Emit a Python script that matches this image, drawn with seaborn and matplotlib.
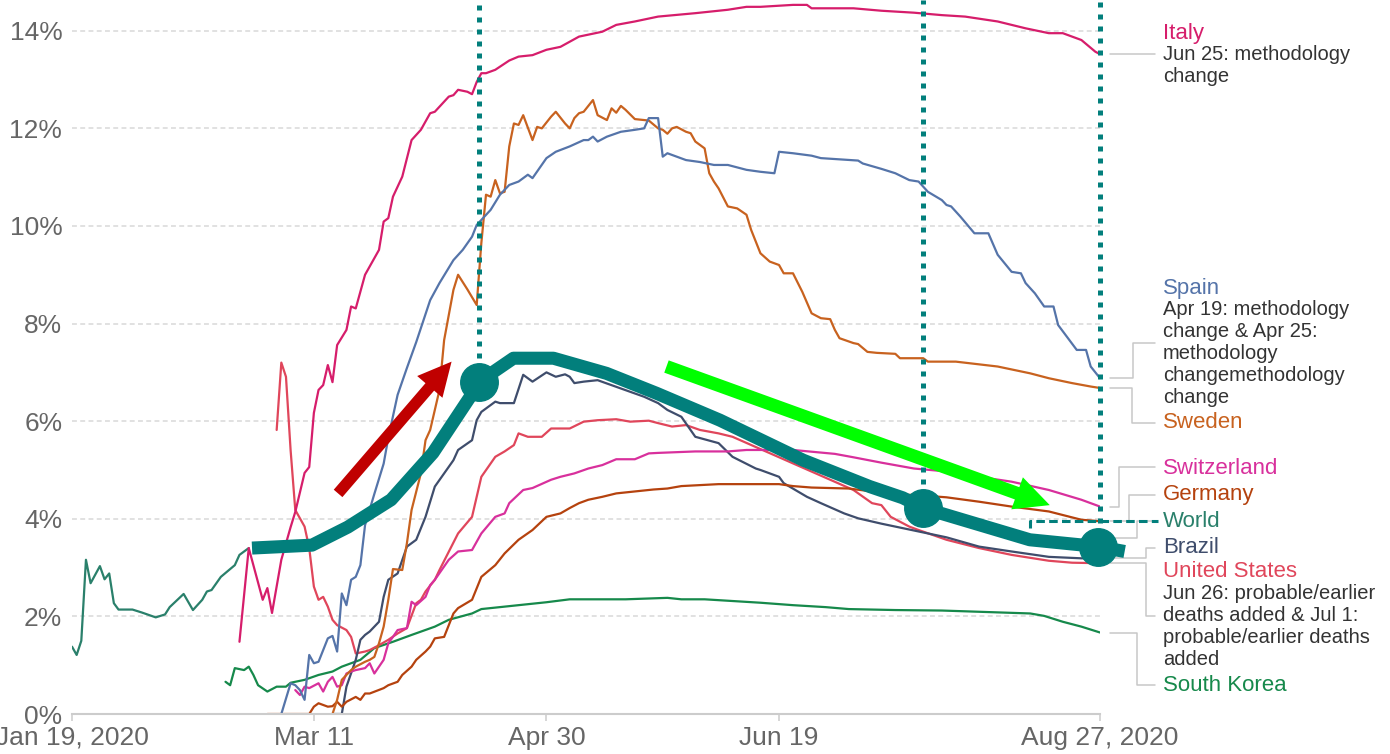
import seaborn as sns
import matplotlib.pyplot as plt
import matplotlib.dates as mdates
from matplotlib.patches import FancyArrowPatch
import pandas as pd

START = pd.Timestamp("2020-01-19")
# x values: days since Jan 19, 2020 / y values: case fatality rate in %

world_day = [0, 1, 2, 3, 4, 6, 7, 8, 9, 10, 13, 15, 18, 20, 21, 24, 26, 28, 29, 30, 32, 35, 36, 38]
world_cfr = [1.38, 1.21, 1.50, 3.16, 2.68, 3.03, 2.76, 2.88, 2.27, 2.14, 2.14, 2.08, 1.98, 2.04, 2.19, 2.46,
             2.13, 2.34, 2.51, 2.54, 2.81, 3.05, 3.26, 3.40]

italy_day = [36, 38, 41, 42, 43, 45, 47, 48, 50, 51, 52, 53, 54, 55, 56, 57, 59, 60, 61, 63, 66, 67, 68, 69, 71,
             73, 75, 77, 78, 81, 82, 83, 85, 86, 87, 88, 89, 91, 94, 96, 99, 102, 105, 109, 114, 117, 121, 126,
             134, 141, 145, 148, 155, 158, 159, 168, 174, 181, 187, 192, 199, 205, 210, 213, 217, 220, 221]
italy_cfr = [1.48, 3.40, 2.34, 2.58, 2.07, 3.16, 3.83, 4.14, 4.94, 5.06, 6.17, 6.64, 6.74, 7.15, 6.80, 7.56, 7.87,
             8.35, 8.31, 9.00, 9.51, 10.09, 10.16, 10.60, 11.01, 11.76, 11.97, 12.31, 12.34, 12.65, 12.68, 12.79,
             12.75, 12.70, 12.95, 13.13, 13.13, 13.20, 13.39, 13.47, 13.50, 13.61, 13.67, 13.88, 13.98, 14.12,
             14.19, 14.29, 14.36, 14.43, 14.49, 14.49, 14.53, 14.53, 14.46, 14.46, 14.41, 14.37, 14.32, 14.29,
             14.19, 14.05, 13.95, 13.95, 13.81, 13.57, 13.52]

spain_day = [45, 47, 48, 49, 50, 51, 52, 53, 55, 56, 57, 58, 59, 60, 61, 62, 63, 65, 67, 68, 70, 72, 74, 77, 79,
             82, 84, 86, 87, 90, 92, 94, 96, 98, 99, 102, 104, 107, 110, 111, 112, 113, 115, 118, 121, 123, 124,
             126, 127, 128, 132, 135, 138, 141, 145, 148, 151, 152, 155, 159, 161, 169, 170, 174, 177, 180, 182,
             184, 187, 188, 189, 191, 194, 197, 199, 202, 204, 205, 207, 209, 211, 212, 216, 218, 219, 221]
spain_cfr = [0.00, 0.63, 0.59, 0.49, 0.29, 1.21, 1.04, 1.07, 1.55, 1.60, 1.28, 2.47, 2.23, 2.75, 2.81, 3.05, 3.87,
             4.51, 5.13, 5.66, 6.54, 7.09, 7.62, 8.48, 8.83, 9.30, 9.51, 9.78, 10.02, 10.33, 10.64, 10.84, 10.91,
             11.05, 10.98, 11.39, 11.52, 11.63, 11.76, 11.76, 11.83, 11.73, 11.83, 11.93, 11.97, 12.00, 12.21,
             12.21, 11.42, 11.49, 11.35, 11.31, 11.25, 11.25, 11.15, 11.11, 11.08, 11.52, 11.49, 11.44, 11.39,
             11.34, 11.28, 11.17, 11.08, 10.94, 10.91, 10.70, 10.53, 10.43, 10.40, 10.19, 9.85, 9.85, 9.41, 9.06,
             9.03, 8.83, 8.62, 8.35, 8.35, 7.97, 7.46, 7.46, 7.12, 6.88]

sweden_day = [56, 57, 58, 60, 61, 63, 64, 65, 66, 67, 68, 69, 71, 72, 73, 75, 76, 77, 79, 80, 82, 83, 85, 87, 88,
              89, 90, 91, 92, 93, 94, 95, 96, 97, 99, 100, 101, 103, 104, 106, 107, 108, 109, 110, 112, 113, 115,
              116, 117, 118, 119, 121, 124, 126, 127, 128, 129, 130, 132, 133, 134, 136, 137, 138, 139, 141, 143,
              145, 146, 148, 150, 152, 153, 155, 157, 159, 161, 163, 164, 165, 168, 169, 171, 173, 177, 178, 183,
              184, 190, 199, 206, 210, 215, 219, 221]
sweden_cfr = [0.00, 0.29, 0.70, 0.90, 0.97, 1.07, 1.11, 1.17, 1.45, 1.79, 2.34, 2.97, 2.95, 3.50, 4.18, 4.93, 5.61,
              5.82, 6.64, 7.66, 8.69, 9.00, 8.70, 8.38, 9.65, 10.64, 10.60, 10.94, 10.67, 10.70, 11.63, 12.10,
              12.07, 12.27, 11.76, 12.03, 12.00, 12.24, 12.34, 12.10, 12.00, 12.21, 12.31, 12.34, 12.58, 12.27,
              12.17, 12.41, 12.32, 12.46, 12.38, 12.19, 12.16, 12.00, 11.97, 11.89, 12.00, 12.03, 11.93, 11.90,
              11.73, 11.59, 11.08, 10.91, 10.77, 10.40, 10.36, 10.23, 9.92, 9.44, 9.27, 9.20, 9.03, 9.03, 8.65,
              8.21, 8.11, 8.09, 7.87, 7.70, 7.60, 7.58, 7.42, 7.40, 7.38, 7.29, 7.29, 7.22, 7.22, 7.12, 6.98,
              6.88, 6.78, 6.71, 6.68]

germany_day = [42, 51, 52, 53, 55, 56, 57, 58, 59, 61, 62, 63, 64, 67, 68, 70, 71, 73, 74, 76, 77, 78, 80, 82, 83,
               86, 88, 91, 93, 96, 99, 102, 105, 107, 109, 111, 114, 117, 121, 125, 128, 131, 139, 152, 155, 159,
               167, 172, 177, 181, 188, 195, 202, 210, 217, 221]
germany_cfr = [0.00, 0.00, 0.15, 0.22, 0.15, 0.16, 0.25, 0.15, 0.25, 0.35, 0.29, 0.42, 0.42, 0.53, 0.59, 0.66, 0.80,
               0.97, 1.11, 1.28, 1.38, 1.55, 1.58, 2.06, 2.17, 2.34, 2.81, 3.05, 3.29, 3.57, 3.77, 4.04, 4.11,
               4.22, 4.32, 4.39, 4.45, 4.52, 4.56, 4.60, 4.62, 4.67, 4.71, 4.71, 4.67, 4.64, 4.62, 4.56, 4.49,
               4.49, 4.44, 4.35, 4.25, 4.15, 3.98, 3.95]

swiss_day = [48, 49, 50, 51, 53, 54, 55, 56, 57, 58, 59, 60, 61, 63, 64, 65, 67, 68, 69, 70, 72, 73, 74, 76, 77,
             78, 81, 83, 86, 88, 91, 93, 94, 97, 99, 103, 105, 108, 111, 114, 117, 121, 124, 126, 134, 141, 145,
             155, 164, 168, 174, 181, 188, 195, 202, 210, 217, 221]
swiss_cfr = [0.49, 0.39, 0.56, 0.53, 0.63, 0.46, 0.66, 0.76, 0.56, 0.59, 0.83, 0.87, 0.90, 0.94, 1.04, 0.83, 1.11,
             1.45, 1.58, 1.72, 1.76, 2.30, 2.23, 2.40, 2.64, 2.75, 3.16, 3.33, 3.36, 3.70, 4.04, 4.11, 4.32, 4.59,
             4.63, 4.80, 4.86, 4.93, 5.03, 5.10, 5.22, 5.22, 5.34, 5.35, 5.38, 5.38, 5.41, 5.41, 5.33, 5.26, 5.15,
             5.03, 4.97, 4.86, 4.76, 4.59, 4.39, 4.25]

brazil_day = [56, 58, 59, 61, 62, 63, 64, 66, 67, 68, 70, 72, 74, 76, 78, 80, 82, 83, 86, 87, 88, 91, 92, 95, 97,
              99, 102, 104, 106, 107, 108, 110, 113, 123, 126, 128, 131, 134, 139, 142, 147, 148, 152, 153, 158,
              161, 166, 169, 174, 179, 188, 195, 202, 210, 217, 221]
brazil_cfr = [0.00, 0.00, 0.56, 1.11, 1.52, 1.62, 1.69, 1.89, 2.40, 2.75, 2.88, 3.43, 3.57, 4.04, 4.66, 4.93, 5.20,
              5.41, 5.61, 6.02, 6.19, 6.40, 6.37, 6.37, 6.95, 6.81, 7.00, 6.91, 6.96, 6.91, 6.78, 6.81, 6.84, 6.50,
              6.37, 6.23, 6.09, 5.68, 5.55, 5.27, 5.03, 5.00, 4.86, 4.73, 4.45, 4.32, 4.11, 4.01, 3.90, 3.80, 3.62,
              3.43, 3.33, 3.22, 3.19, 3.19]

us_day = [44, 45, 46, 47, 48, 50, 51, 52, 53, 54, 55, 56, 57, 59, 60, 61, 63, 64, 66, 68, 70, 72, 74, 75, 76, 78,
          79, 83, 86, 88, 91, 93, 95, 96, 98, 101, 103, 107, 110, 113, 117, 120, 124, 126, 129, 132, 135, 139, 142,
          168, 172, 174, 176, 180, 182, 188, 195, 202, 210, 215, 221]
us_cfr = [5.82, 7.20, 6.91, 5.40, 4.18, 3.84, 3.40, 2.61, 2.34, 2.40, 2.20, 1.93, 1.82, 1.72, 1.58, 1.24, 1.28,
          1.31, 1.41, 1.52, 1.65, 1.76, 2.27, 2.34, 2.51, 2.75, 2.95, 3.70, 4.04, 4.86, 5.27, 5.38, 5.51, 5.75,
          5.68, 5.68, 5.85, 5.85, 5.99, 6.02, 6.04, 5.99, 6.01, 5.96, 5.89, 5.92, 5.82, 5.75, 5.68, 4.59, 4.32,
          4.28, 4.04, 3.84, 3.77, 3.57, 3.40, 3.26, 3.14, 3.10, 3.09]

korea_day = [33, 34, 35, 37, 38, 39, 40, 42, 44, 46, 47, 50, 53, 56, 58, 62, 65, 69, 73, 78, 81, 86, 88, 94, 102,
             107, 119, 128, 131, 136, 148, 155, 162, 167, 177, 187, 206, 209, 213, 217, 221]
korea_cfr = [0.66, 0.59, 0.94, 0.90, 0.97, 0.80, 0.59, 0.46, 0.56, 0.56, 0.64, 0.70, 0.80, 0.87, 0.97, 1.11, 1.35,
             1.48, 1.62, 1.79, 1.93, 2.06, 2.15, 2.21, 2.29, 2.35, 2.35, 2.38, 2.35, 2.35, 2.28, 2.23, 2.19, 2.15,
             2.13, 2.12, 2.06, 2.01, 1.89, 1.79, 1.67]

# hand drawn highlight on top of the World curve
trend_day = [38.7, 51.6, 59.3, 68.6, 77.6, 85.6, 87.55, 94.9, 103.5, 114.9, 125.7, 139.3, 157.2, 171.5, 178.6,
             183.0, 205.9, 220.6, 226.3]
trend_cfr = [3.40, 3.46, 3.83, 4.39, 5.35, 6.50, 6.81, 7.29, 7.29, 6.98, 6.57, 6.02, 5.20, 4.66, 4.43, 4.22,
             3.57, 3.43, 3.33]
dot_day = [87.55, 183.0, 220.6]
dot_cfr = [6.81, 4.22, 3.43]
vline_day = [87.55, 183.0, 221.0]
red_arrow = [(57.2, 4.52), (81.6, 7.22)]
green_arrow = [(127.8, 7.12), (210.2, 4.28)]

tick_day = [0, 52, 102, 152, 221]
tick_text = ["Jan 19, 2020", "Mar 11", "Apr 30", "Jun 19", "Aug 27, 2020"]
y_ticks = [0, 2, 4, 6, 8, 10, 12, 14]

series = [
    ("World", world_day, world_cfr),
    ("South Korea", korea_day, korea_cfr),
    ("United States", us_day, us_cfr),
    ("Brazil", brazil_day, brazil_cfr),
    ("Germany", germany_day, germany_cfr),
    ("Switzerland", swiss_day, swiss_cfr),
    ("Sweden", sweden_day, sweden_cfr),
    ("Spain", spain_day, spain_cfr),
    ("Italy", italy_day, italy_cfr),
]
colors = {
    "Italy": "#d61d6b", "Spain": "#5574a9", "Sweden": "#c8621f", "Switzerland": "#d8309c",
    "Germany": "#b5420e", "World": "#2a806b", "Brazil": "#3f4d6c", "United States": "#e0465b",
    "South Korea": "#16894b",
}
TEAL = "#027f7c"

rows = []
for name, days, cfr in series:
    for d, v in zip(days, cfr):
        rows.append({"country": name, "day": d, "cfr": v})
df = pd.DataFrame(rows)
df["date"] = START + pd.to_timedelta(df["day"], unit="D")


def dx(d):
    return mdates.date2num(START + pd.to_timedelta(d, unit="D"))


sns.set_theme(style="white")
plt.rcParams["font.family"] = ["Liberation Sans", "DejaVu Sans"]

fig = plt.figure(figsize=(13.9, 7.54), dpi=100)
ax = fig.add_axes([72 / 1390, 40 / 754, 1028 / 1390, 714 / 754])
YTOP = 14.63

sns.lineplot(data=df, x="date", y="cfr", hue="country", hue_order=[s[0] for s in series],
             palette=colors, estimator=None, linewidth=1.6, legend=False, ax=ax)

ax.set_xlim(dx(0), dx(221))
ax.set_ylim(0, YTOP)
ax.set_xticks([dx(d) for d in tick_day])
ax.set_xticklabels(tick_text)
ax.set_yticks(y_ticks)
ax.set_yticklabels([f"{v}%" for v in y_ticks])
ax.set_xlabel("")
ax.set_ylabel("")
ax.yaxis.grid(True, color="#d8d8d8", linestyle=(0, (3.2, 2.2)), linewidth=1.1)
ax.xaxis.grid(False)
ax.set_axisbelow(True)
sns.despine(ax=ax, left=True)
ax.spines["bottom"].set_color("#cccccc")
ax.spines["bottom"].set_linewidth(1.5)
ax.tick_params(axis="x", length=5, width=1.1, color="#cccccc", labelsize=19, labelcolor="#666666", pad=3.5,
               bottom=True)
ax.tick_params(axis="y", length=0, labelsize=19, labelcolor="#666666", pad=7)

# dotted markers, highlight line, dots and arrows
for d, v in zip(vline_day, dot_cfr):
    ax.plot([dx(d), dx(d)], [v, YTOP], color=TEAL, linewidth=3.6, linestyle=(0, (1, 1.4)),
            solid_capstyle="butt", dash_capstyle="butt", zorder=4, clip_on=False)
ax.plot([dx(d) for d in trend_day], trend_cfr, color=TEAL, linewidth=9.4, solid_capstyle="butt",
        solid_joinstyle="round", zorder=5, clip_on=False)
ax.plot([dx(d) for d in dot_day], dot_cfr, "o", color=TEAL, markersize=27, zorder=6, clip_on=False)

for (a, b), col, style in [
    (red_arrow, "#c00000", "simple,head_length=24,head_width=24,tail_width=8.2"),
    (green_arrow, "#00ff00", "simple,head_length=25,head_width=24.5,tail_width=9.4"),
]:
    ax.add_patch(FancyArrowPatch((dx(a[0]), a[1]), (dx(b[0]), b[1]), arrowstyle=style, mutation_scale=1,
                                 color=col, linewidth=0, shrinkA=0, shrinkB=0, zorder=7))

# right hand labels (positions in days / %)
LABEL_X = 234.5
labels = [
    ("Italy", 13.95, ["Jun 25: methodology", "change"]),
    ("Spain", 8.71, ["Apr 19: methodology", "change & Apr 25:", "methodology", "changemethodology", "change"]),
    ("Sweden", 5.98, []),
    ("Switzerland", 5.04, []),
    ("Germany", 4.49, []),
    ("World", 3.95, []),
    ("Brazil", 3.42, []),
    ("United States", 2.91, ["Jun 26: probable/earlier", "deaths added & Jul 1:", "probable/earlier deaths",
                             "added"]),
    ("South Korea", 0.59, []),
]
LINE_STEP = 0.451
for name, y, note in labels:
    ax.text(dx(LABEL_X), y, name, color=colors[name], fontsize=16, va="center", ha="left", clip_on=False)
    for i, line in enumerate(note):
        ax.text(dx(LABEL_X), y - (i + 1) * LINE_STEP + 0.02, line, color="#333333", fontsize=14.5,
                va="center", ha="left", clip_on=False)

connectors = [
    [(223.1, 13.52), (232.8, 13.52)],
    [(223.1, 6.89), (228.1, 6.89), (228.1, 7.60), (232.8, 7.60)],
    [(223.1, 6.68), (227.9, 6.68), (227.9, 5.96), (232.8, 5.96)],
    [(223.1, 4.24), (225.1, 4.24), (225.1, 5.06), (232.8, 5.06)],
    [(223.1, 3.95), (227.2, 3.95), (227.2, 4.49), (232.8, 4.49)],
    [(223.1, 3.60), (228.9, 3.60), (228.9, 3.95), (232.8, 3.95)],
    [(223.1, 3.19), (230.9, 3.19), (230.9, 3.40), (232.8, 3.40)],
    [(223.1, 3.09), (230.9, 3.09), (230.9, 2.00), (232.8, 2.00)],
    [(223.1, 1.66), (228.9, 1.66), (228.9, 0.59), (232.8, 0.59)],
]
for path in connectors:
    ax.plot([dx(p[0]) for p in path], [p[1] for p in path], color="#c8c8c8", linewidth=1.1,
            zorder=1, clip_on=False)

world_mark = [(205.9, 3.81), (205.9, 3.95), (233.4, 3.95)]
ax.plot([dx(p[0]) for p in world_mark], [p[1] for p in world_mark], color=TEAL, linewidth=2.2,
        linestyle=(0, (2.8, 1.4)), zorder=4, clip_on=False)

fig.savefig("out.png", dpi=100)
